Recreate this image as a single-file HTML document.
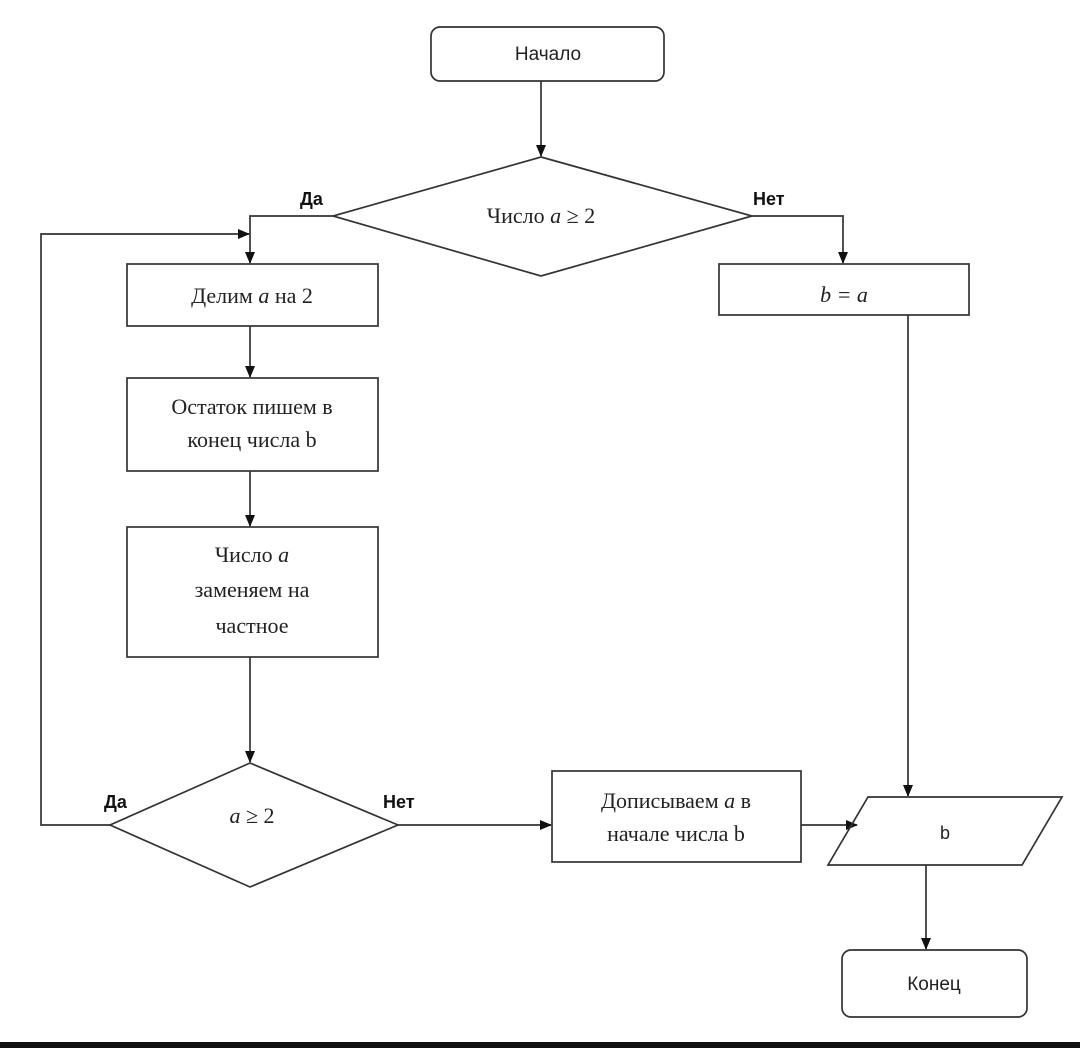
<!DOCTYPE html>
<html><head><meta charset="utf-8"><style>
html,body{margin:0;padding:0;background:#fff;width:1080px;height:1048px;overflow:hidden}
svg text{font-family:"Liberation Serif","Noto Serif CJK SC",serif;fill:#222}
.s{font-family:"Liberation Sans","Noto Sans CJK SC",sans-serif}
</style></head><body>
<svg width="1080" height="1048" viewBox="0 0 1080 1048" xmlns="http://www.w3.org/2000/svg">
<defs><marker id="a" markerWidth="12" markerHeight="12" refX="11" refY="6" orient="auto" markerUnits="userSpaceOnUse"><path d="M0,1 L12,6 L0,11 z" fill="#111"/></marker></defs>
<g fill="none" stroke="#333" stroke-width="1.7">
<rect x="431" y="27" width="233" height="54" rx="9" fill="#fff"/>
<line x1="541" y1="81" x2="541" y2="156" marker-end="url(#a)"/>
<polygon points="541,157 752,216 541,276 333,216"/>
<polyline points="333,216 250,216 250,263" marker-end="url(#a)"/>
<polyline points="752,216 843,216 843,263" marker-end="url(#a)"/>
<polyline points="110,825 41,825 41,234 249,234" marker-end="url(#a)"/>
<rect x="127" y="264" width="251" height="62"/>
<line x1="250" y1="326" x2="250" y2="377" marker-end="url(#a)"/>
<rect x="127" y="378" width="251" height="93"/>
<line x1="250" y1="471" x2="250" y2="526" marker-end="url(#a)"/>
<rect x="127" y="527" width="251" height="130"/>
<line x1="250" y1="657" x2="250" y2="762" marker-end="url(#a)"/>
<polygon points="250,763 398,825 250,887 110,825"/>
<line x1="398" y1="825" x2="551" y2="825" marker-end="url(#a)"/>
<rect x="552" y="771" width="249" height="91"/>
<line x1="801" y1="825" x2="857" y2="825" marker-end="url(#a)"/>
<rect x="719" y="264" width="250" height="51"/>
<line x1="908" y1="315" x2="908" y2="796" marker-end="url(#a)"/>
<polygon points="868,797 1062,797 1022,865 828,865"/>
<line x1="926" y1="865" x2="926" y2="949" marker-end="url(#a)"/>
<rect x="842" y="950" width="185" height="67" rx="9"/>
</g>
<rect x="0" y="1042" width="1080" height="6" fill="#111"/>
<g font-size="22" text-anchor="middle">
<text class="s" x="548" y="60" font-size="19">Начало</text>
<text x="541" y="223">Число <tspan font-style="italic">a</tspan> ≥ 2</text>
<text x="252" y="303">Делим <tspan font-style="italic">a</tspan> на 2</text>
<text x="252" y="414">Остаток пишем в</text>
<text x="252" y="447">конец числа b</text>
<text x="252" y="562">Число <tspan font-style="italic">a</tspan></text>
<text x="252" y="597">заменяем на</text>
<text x="252" y="633">частное</text>
<text x="252" y="823"><tspan font-style="italic">a</tspan> ≥ 2</text>
<text x="676" y="808">Дописываем <tspan font-style="italic">a</tspan> в</text>
<text x="676" y="841">начале числа b</text>
<text x="844" y="302" font-style="italic">b = a</text>
<text class="s" x="945" y="839" font-size="18">b</text>
<text class="s" x="934" y="990" font-size="19">Конец</text>
</g>
<g font-size="18" font-weight="bold">
<text class="s" x="300" y="205" style="fill:#111">Да</text>
<text class="s" x="753" y="205" style="fill:#111">Нет</text>
<text class="s" x="104" y="808" style="fill:#111">Да</text>
<text class="s" x="383" y="808" style="fill:#111">Нет</text>
</g>
</svg>
</body></html>
